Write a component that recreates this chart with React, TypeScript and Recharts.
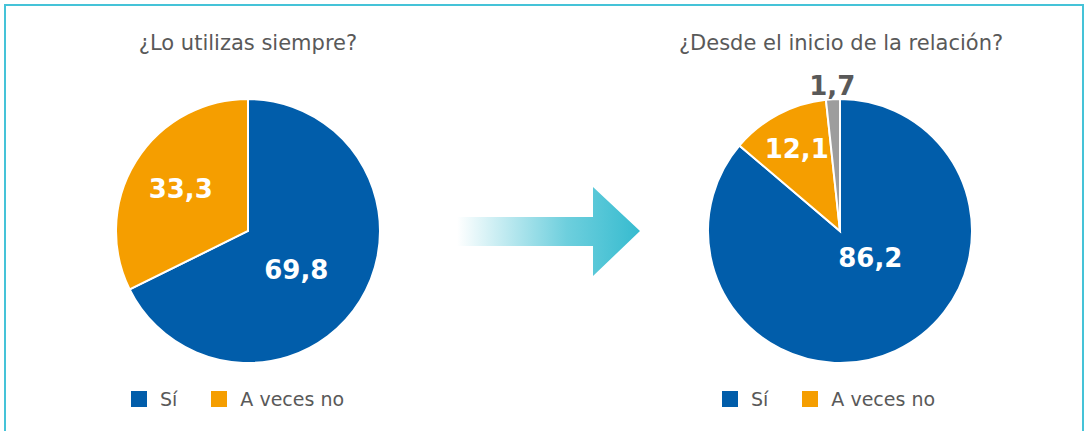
import React from 'react';
import { PieChart, Pie, Cell } from 'recharts';

const categories = ['Sí', 'A veces no'];
const siempreValues = [69.8, 33.3];
const inicioCategories = ['Sí', 'A veces no', 'Ns/Nc'];
const inicioValues = [86.2, 12.1, 1.7];

const COLORS = ['#015DAA', '#F59E00', '#9D9D9D'];
const TEXT = '#595959';
const FONT = '"DejaVu Sans", Verdana, sans-serif';

const fmt = (v: number) => v.toFixed(1).replace('.', ',');

// label placement per slice: radius as fraction of outer radius, angle nudge in degrees
function makeLabel(radii: number[], nudges: number[], colors: string[]) {
  return (props: any) => {
    const { cx, cy, midAngle, outerRadius, value, index } = props;
    const r = outerRadius * radii[index];
    const rad = (-(midAngle + nudges[index]) * Math.PI) / 180;
    const x = cx + r * Math.cos(rad);
    const y = cy + r * Math.sin(rad);
    return (
      <text
        x={x}
        y={y}
        fill={colors[index]}
        textAnchor="middle"
        dominantBaseline="central"
        style={{ fontFamily: FONT, fontSize: 26, fontWeight: 700 }}
      >
        {fmt(value)}
      </text>
    );
  };
}

function Legend({ left }: { left: number }) {
  return (
    <div
      style={{
        position: 'absolute',
        left,
        top: 388,
        display: 'flex',
        alignItems: 'center',
        fontFamily: FONT,
        fontSize: 19,
        color: TEXT,
      }}
    >
      {categories.map((c, i) => (
        <div key={c} style={{ display: 'flex', alignItems: 'center', marginRight: i === 0 ? 34 : 0 }}>
          <span style={{ width: 16, height: 16, background: COLORS[i], display: 'inline-block', marginRight: 13 }} />
          <span>{c}</span>
        </div>
      ))}
    </div>
  );
}

function Title({ text, center }: { text: string; center: number }) {
  return (
    <div
      style={{
        position: 'absolute',
        left: center - 250,
        width: 500,
        top: 31,
        textAlign: 'center',
        fontFamily: FONT,
        fontSize: 21,
        color: TEXT,
      }}
    >
      {text}
    </div>
  );
}

export default function App() {
  const leftData = categories.map((name, i) => ({ name, value: siempreValues[i] }));
  const rightData = inicioCategories.map((name, i) => ({ name, value: inicioValues[i] }));

  return (
    <div
      style={{
        position: 'absolute',
        left: 0,
        top: 0,
        width: 1086,
        height: 431,
        overflow: 'hidden',
        background: '#fff',
      }}
    >
      <div
        style={{
          position: 'absolute',
          left: 4,
          top: 4,
          width: 1076,
          height: 460,
          border: '2px solid #45C3D8',
        }}
      />
      <Title text="¿Lo utilizas siempre?" center={248} />
      <Title text="¿Desde el inicio de la relación?" center={841} />

      <div style={{ position: 'absolute', left: 0, top: 0 }}>
        <PieChart width={500} height={431} margin={{ top: 0, right: 0, bottom: 0, left: 0 }}>
          <Pie
            data={leftData}
            dataKey="value"
            cx={248}
            cy={231}
            outerRadius={132}
            startAngle={90}
            endAngle={-270}
            stroke="#fff"
            strokeWidth={2}
            labelLine={false}
            label={makeLabel([0.47, 0.6], [-7, 0], ['#fff', '#fff'])}
            isAnimationActive={false}
          >
            {leftData.map((d, i) => (
              <Cell key={d.name} fill={COLORS[i]} />
            ))}
          </Pie>
        </PieChart>
      </div>

      <div style={{ position: 'absolute', left: 590, top: 0 }}>
        <PieChart width={496} height={431} margin={{ top: 0, right: 0, bottom: 0, left: 0 }}>
          <Pie
            data={rightData}
            dataKey="value"
            cx={250}
            cy={231}
            outerRadius={132}
            startAngle={90}
            endAngle={-270}
            stroke="#fff"
            strokeWidth={2}
            labelLine={false}
            label={makeLabel([0.31, 0.7, 1.1], [23, 0, 0], ['#fff', '#fff', TEXT])}
            isAnimationActive={false}
          >
            {rightData.map((d, i) => (
              <Cell key={d.name} fill={COLORS[i]} />
            ))}
          </Pie>
        </PieChart>
      </div>

      <svg style={{ position: 'absolute', left: 450, top: 180 }} width={200} height={110}>
        <defs>
          <linearGradient id="arrowGrad" x1="0" y1="0" x2="1" y2="0">
            <stop offset="0%" stopColor="#3DBFD2" stopOpacity={0} />
            <stop offset="60%" stopColor="#3DBFD2" stopOpacity={0.75} />
            <stop offset="100%" stopColor="#36BBCF" stopOpacity={1} />
          </linearGradient>
        </defs>
        <polygon
          points="7,37 143,37 143,7 190,51 143,96 143,66 7,66"
          fill="url(#arrowGrad)"
        />
      </svg>

      <Legend left={131} />
      <Legend left={722} />
    </div>
  );
}
